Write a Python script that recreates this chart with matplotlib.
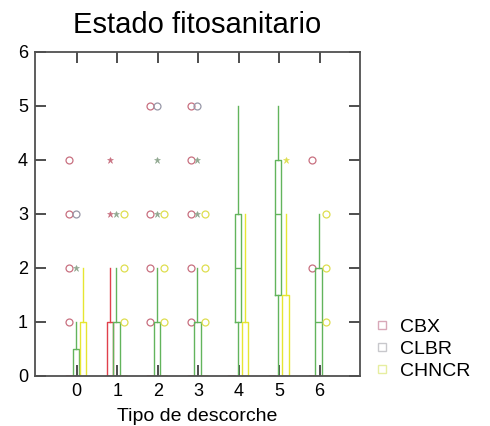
import matplotlib
matplotlib.use('Agg')
import matplotlib.pyplot as plt
from matplotlib.lines import Line2D

plt.rcParams['font.family'] = ['Liberation Sans', 'DejaVu Sans']

categories = [0, 1, 2, 3, 4, 5, 6]
series = ['CBX', 'CLBR', 'CHNCR']

# box statistics per category (q1, median, q3, lower whisker, upper whisker)
cbx_q1 = [0, 0, 0, 0, 0, 0, 0]
cbx_med = [0, 0, 0, 0, 0, 0, 0]
cbx_q3 = [0, 1, 0, 0, 0, 0, 0]
cbx_lo = [0, 0, 0, 0, 0, 0, 0]
cbx_hi = [0, 2, 0, 0, 0, 0, 0]

clbr_q1 = [0, 0, 0, 0, 1, 1.5, 0]
clbr_med = [0, 0, 0, 0, 2, 3, 1]
clbr_q3 = [0.5, 1, 1, 1, 3, 4, 2]
clbr_lo = [0, 0, 0, 0, 0, 0, 0]
clbr_hi = [1, 2, 2, 2, 5, 5, 3]

chncr_q1 = [0, 0, 0, 0, 0, 0, 0]
chncr_med = [0, 0, 0, 0, 0, 0, 0]
chncr_q3 = [1, 0, 0, 0, 1, 1.5, 0]
chncr_lo = [0, 0, 0, 0, 0, 0, 0]
chncr_hi = [2, 0, 0, 0, 3, 3, 0]

# outliers: circles and stars, one list per category
cbx_circles = [[1, 2, 3, 4], [], [1, 2, 3, 5], [1, 2, 3, 4, 5], [], [], [2, 4]]
cbx_stars = [[], [3, 4], [], [], [], [], []]
clbr_circles = [[3], [], [5], [5], [], [], []]
clbr_stars = [[2], [3], [3, 4], [3, 4], [], [], []]
chncr_circles = [[], [1, 2, 3], [1, 2, 3], [1, 2, 3], [], [], [1, 2, 3]]
chncr_stars = [[], [], [], [], [], [4], []]

box_colors = ['#e0404c', '#62b45c', '#e6e632']
flier_colors = ['#c87080', '#9898a8', '#dede50']
legend_colors = ['#d8a8b8', '#c8c8cc', '#e6eea0']
offsets = [-0.18, -0.02, 0.16]

stats_all = [
    (cbx_q1, cbx_med, cbx_q3, cbx_lo, cbx_hi, cbx_circles, cbx_stars),
    (clbr_q1, clbr_med, clbr_q3, clbr_lo, clbr_hi, clbr_circles, clbr_stars),
    (chncr_q1, chncr_med, chncr_q3, chncr_lo, chncr_hi, chncr_circles, chncr_stars),
]

fig = plt.figure(figsize=(4.9, 4.26), dpi=100)
ax = fig.add_axes([0.0714, 0.1174, 0.6633, 0.7606])

for k, (q1, med, q3, lo, hi, circ, star) in enumerate(stats_all):
    stats = []
    for i in range(len(categories)):
        stats.append(dict(q1=q1[i], med=med[i], q3=q3[i], whislo=lo[i],
                          whishi=hi[i], fliers=[]))
    pos = [c + offsets[k] for c in categories]
    col = box_colors[k]
    ax.bxp(stats, positions=pos, widths=0.16, showcaps=False,
           showfliers=False, manage_ticks=False,
           boxprops=dict(color=col, lw=1.0),
           whiskerprops=dict(color=col, lw=1.0),
           medianprops=dict(color=col, lw=1.0))
    for i, c in enumerate(categories):
        if circ[i]:
            ax.plot([c + offsets[k]] * len(circ[i]), circ[i], 'o', ms=5,
                    mfc='none', mec=flier_colors[k], mew=0.9)
        if star[i]:
            ax.plot([c + offsets[k]] * len(star[i]), star[i], '*', ms=4.5,
                    color=flier_colors[k] if k != 1 else '#90a890', mew=0.4)

ax.set_xlim(-1.03, 7.0)
ax.set_ylim(0, 6)
ax.set_xticks(categories)
ax.set_yticks(range(7))
ax.tick_params(direction='in', length=8, width=1.3, color='#404040',
               labelsize=13, top=True, right=True, pad=5)
for s in ax.spines.values():
    s.set_color('#505050')
    s.set_linewidth(1.3)
ax.set_title('Estado fitosanitario', fontsize=21, pad=14)
ax.set_xlabel('Tipo de descorche', fontsize=14, labelpad=6)

handles = [Line2D([], [], ls='none', marker='s', ms=6, mfc='none',
                  mec=legend_colors[k], mew=1) for k in range(3)]
ax.legend(handles, series, loc='lower left', bbox_to_anchor=(1.02, -0.035),
          frameon=False, fontsize=14, handlelength=0.8, handletextpad=0.5,
          labelspacing=0.22, borderaxespad=0)

fig.savefig('out.png', dpi=100)
